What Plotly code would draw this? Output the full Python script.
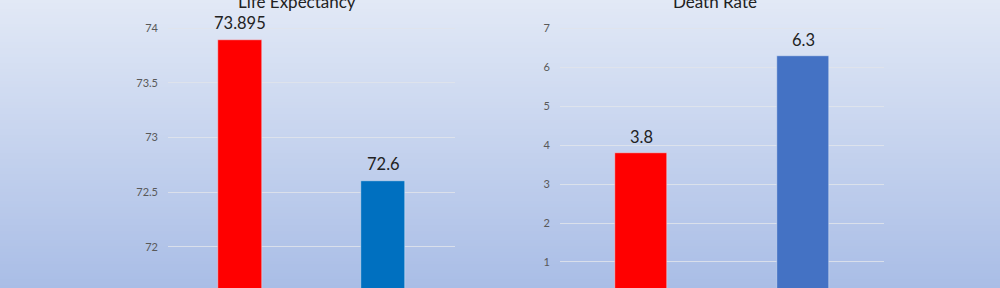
import plotly.graph_objects as go

# ---- data ----
categories = ["A", "B"]
life_expectancy = [73.895, 72.6]
death_rate = [3.8, 6.3]
life_colors = ["#FF0000", "#0070C0"]
death_colors = ["#FF0000", "#4472C4"]
titles = ["Life Expectancy", "Death Rate"]

FONT = "Lato, 'Open Sans', sans-serif"

fig = go.Figure()

fig.add_trace(go.Bar(x=categories, y=life_expectancy, marker_color=life_colors,
                     width=0.31, xaxis="x", yaxis="y", showlegend=False,
                     base=[0, 0]))
fig.add_trace(go.Bar(x=categories, y=death_rate, marker_color=death_colors,
                     width=0.315, xaxis="x2", yaxis="y2", showlegend=False))

# gradient background strips
top = (226, 233, 246)
bot = (169, 189, 230)
n = 96
shapes = []
for i in range(n):
    t = (i + 0.5) / n
    c = tuple(round(top[k] + (bot[k] - top[k]) * t) for k in range(3))
    shapes.append(dict(type="rect", xref="paper", yref="paper", x0=0, x1=1,
                       y0=1 - (i + 1) / n - 0.002, y1=1 - i / n,
                       fillcolor="rgb(%d,%d,%d)" % c, line_width=0, layer="below"))

annotations = []
for cat, v in zip(categories, life_expectancy):
    annotations.append(dict(x=cat, y=v, xref="x", yref="y", text=f"{v:g}",
                            showarrow=False, yanchor="bottom", yshift=5,
                            font=dict(family=FONT, size=16.5, color="#222222")))
for cat, v in zip(categories, death_rate):
    annotations.append(dict(x=cat, y=v, xref="x2", yref="y2", text=f"{v:g}",
                            showarrow=False, yanchor="bottom", yshift=4,
                            font=dict(family=FONT, size=16.5, color="#222222")))
annotations.append(dict(x=0.297, y=1 - 2 / 288, xref="paper", yref="paper",
                        text=titles[0], showarrow=False, xanchor="center", yanchor="middle",
                        font=dict(family=FONT, size=17, color="#222222")))
annotations.append(dict(x=0.715, y=1 - 2 / 288, xref="paper", yref="paper",
                        text=titles[1], showarrow=False, xanchor="center", yanchor="middle",
                        font=dict(family=FONT, size=17, color="#222222")))

axis_common = dict(showgrid=True, gridcolor="rgba(225,228,235,0.85)", gridwidth=1,
                   zeroline=False, showline=False, ticks="",
                   tickfont=dict(family=FONT, size=11, color="#595959"),
                   ticklabelstandoff=9)

fig.update_layout(
    width=1000, height=288,
    margin=dict(l=0, r=0, t=0, b=0),
    paper_bgcolor="rgb(200,212,238)",
    plot_bgcolor="rgba(0,0,0,0)",
    shapes=shapes,
    annotations=annotations,
    bargap=0,
    xaxis=dict(domain=[0.168, 0.455], range=[-0.5, 1.5], showticklabels=False,
               showgrid=False, zeroline=False, showline=False, ticks=""),
    xaxis2=dict(domain=[0.560, 0.884], range=[-0.5, 1.5], showticklabels=False,
                showgrid=False, zeroline=False, showline=False, ticks=""),
    yaxis=dict(anchor="x", range=[71.622, 74.259], tick0=72, dtick=0.5, **axis_common),
    yaxis2=dict(anchor="x2", range=[0.332, 7.727], tick0=0, dtick=1, **axis_common),
)

fig.write_html("out.html")
